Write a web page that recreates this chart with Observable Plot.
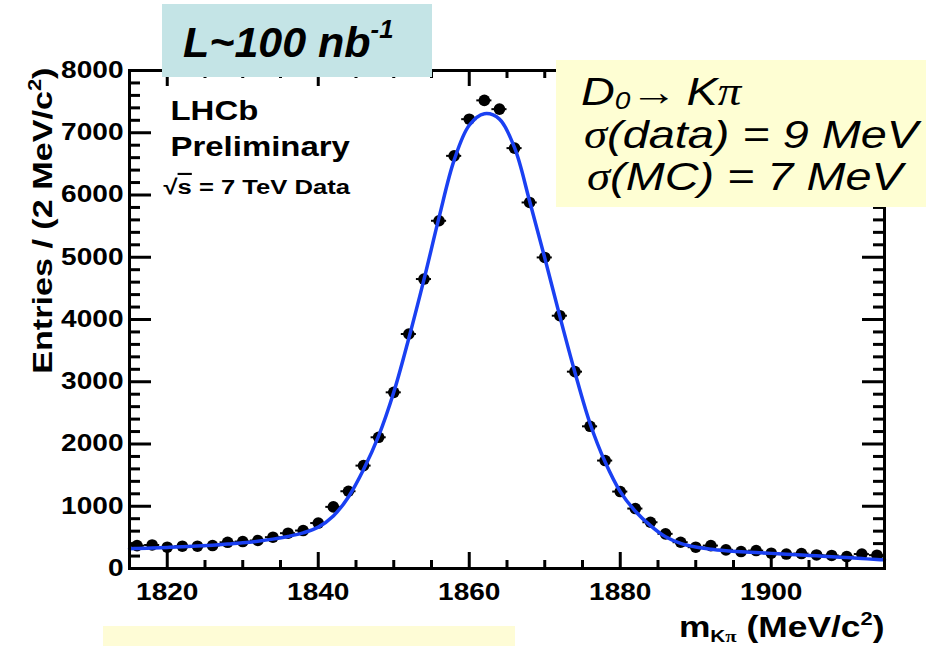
<!DOCTYPE html>
<html>
<head>
<meta charset="utf-8">
<script src="https://cdn.jsdelivr.net/npm/d3@7"></script>
<script src="https://cdn.jsdelivr.net/npm/@observablehq/plot@0.6"></script>
<style>
  body { margin: 0; background: #fff; }
  #wrap { position: relative; width: 939px; height: 646px; overflow: hidden; background: #fff; }
  #chart svg { display: block; }
  .note { position: absolute; font-family: "Liberation Sans", Arial, Helvetica, sans-serif; color: #000; }
  .note .line { position: absolute; white-space: nowrap; line-height: 1; }
  #lumi { left: 162px; top: 4px; width: 270px; height: 73px; background: #c4e4e6; }
  #lumi .line { left: 21px; top: 17px; font-size: 43px; font-weight: bold; font-style: italic; }
  #lumi sup { font-size: 0.6em; vertical-align: 0.75em; line-height: 0; }
  #decay { left: 556px; top: 60px; width: 370px; height: 147px; background: #fefed3; }
  #decay .line { font-size: 39px; font-style: italic; transform: scaleX(1.2); transform-origin: 0 0; }
  #decay .sym { font-family: "Liberation Serif", "Times New Roman", serif; font-style: italic; }
  #decay .arrow { font-family: "Liberation Serif", "Times New Roman", serif; font-style: normal; }
  #decay sub { font-size: 0.6em; vertical-align: -0.18em; line-height: 0; }
  #band { left: 103px; top: 626px; width: 412px; height: 20px; background: #fefcd6; }
</style>
</head>
<body>
<div id="wrap">
  <div id="chart"></div>
  <div class="note" id="lumi"><div class="line">L~100 nb<sup>-1</sup></div></div>
  <div class="note" id="decay">
    <div class="line" style="left:25px;top:12px">D<sub>0</sub><span class="arrow">→</span>&#8201;K<span class="sym">π</span></div>
    <div class="line" style="left:28px;top:55px"><span class="sym">σ</span>(data) = 9 MeV</div>
    <div class="line" style="left:31px;top:97px"><span class="sym">σ</span>(MC) = 7 MeV</div>
  </div>
  <div class="note" id="band"></div>
</div>
<script>
// D0 -> K pi candidates: bin centres (MeV/c^2) and entries per 2 MeV/c^2 bin
const massBins = [1816, 1818, 1820, 1822, 1824, 1826, 1828, 1830, 1832, 1834,
                  1836, 1838, 1840, 1842, 1844, 1846, 1848, 1850, 1852, 1854,
                  1856, 1858, 1860, 1862, 1864, 1866, 1868, 1870, 1872, 1874,
                  1876, 1878, 1880, 1882, 1884, 1886, 1888, 1890, 1892, 1894,
                  1896, 1898, 1900, 1902, 1904, 1906, 1908, 1910, 1912, 1914];
const entries = [367, 378, 342, 358, 358, 369, 421, 433, 450, 503,
                 567, 610, 730, 990, 1241, 1653, 2108, 2830, 3767, 4650,
                 5586, 6629, 7218, 7520, 7379, 6753, 5880, 4997, 4061, 3162,
                 2284, 1734, 1236, 963, 743, 557, 422, 342, 368, 300,
                 272, 288, 246, 232, 240, 218, 210, 192, 232, 214];

// fitted signal + background curve
const fitMass = [1815, 1816, 1818, 1820, 1822, 1824, 1826, 1828, 1830, 1832,
                 1834, 1836, 1838, 1840, 1842, 1844, 1846, 1848, 1850, 1852,
                 1854, 1856, 1858, 1860, 1862, 1864, 1866, 1868, 1870, 1872,
                 1874, 1876, 1878, 1880, 1882, 1884, 1886, 1888, 1890, 1892,
                 1894, 1896, 1898, 1900, 1902, 1904, 1906, 1908, 1910, 1912,
                 1914, 1915];
const fitEntries = [318, 322, 330, 338, 348, 360, 374, 392, 412, 438,
                    472, 515, 572, 665, 845, 1150, 1590, 2130, 2830, 3700,
                    4640, 5640, 6560, 7120, 7305, 7220, 6760, 5900, 4990, 4050,
                    3150, 2330, 1710, 1235, 920, 690, 510, 405, 345, 310,
                    287, 270, 256, 243, 230, 217, 203, 190, 175, 160,
                    145, 140];

const binWidth = 2;
const xDomain = [1815, 1915];
const yDomain = [0, 8000];
const xMajor = [1820, 1840, 1860, 1880, 1900];
const yMajor = [0, 1000, 2000, 3000, 4000, 5000, 6000, 7000, 8000];
const xMinor = d3.range(1820, 1915, 5).filter(v => !xMajor.includes(v));
const yMinor = d3.range(200, 8000, 200).filter(v => v % 1000 !== 0);

const yTitle = "Entries / (2 MeV/c²)";
const xTitle = "mKπ (MeV/c²)";
const panelLines = ["LHCb", "Preliminary", "√s = 7 TeV Data"];

const bins = massBins.map((m, i) => ({m, n: entries[i]}));
const fit = fitMass.map((m, i) => ({m, n: fitEntries[i]}));

const W = 939, H = 646;
const mL = 129, mR = 55, mT = 70, mB = 78;
const innerW = W - mL - mR, innerH = H - mT - mB;
const majY = 22, minY = 11, majX = 16, minX = 8;
const ink = "#000";

const chart = Plot.plot({
  width: W, height: H,
  marginLeft: mL, marginRight: mR, marginTop: mT, marginBottom: mB,
  x: {domain: xDomain},
  y: {domain: yDomain},
  style: {fontFamily: "'Liberation Sans', Arial, Helvetica, sans-serif", fontSize: "23px", fontWeight: "bold", color: ink, background: "#fff"},
  marks: [
    Plot.axisX({ticks: xMajor, tickSize: 0, tickPadding: 15, tickFormat: "d", label: null}),
    Plot.axisY({ticks: yMajor, tickSize: 0, tickPadding: 6, tickFormat: "d", label: null}),
    // inward ticks on all four sides
    Plot.tickY(yMajor, {y: d => d, insetRight: innerW - majY, stroke: ink, strokeWidth: 3}),
    Plot.tickY(yMinor, {y: d => d, insetRight: innerW - minY, stroke: ink, strokeWidth: 3}),
    Plot.tickY(yMajor, {y: d => d, insetLeft: innerW - majY, stroke: ink, strokeWidth: 3}),
    Plot.tickY(yMinor, {y: d => d, insetLeft: innerW - minY, stroke: ink, strokeWidth: 3}),
    Plot.tickX(xMajor, {x: d => d, insetTop: innerH - majX, stroke: ink, strokeWidth: 3}),
    Plot.tickX(xMinor, {x: d => d, insetTop: innerH - minX, stroke: ink, strokeWidth: 3}),
    Plot.tickX(xMajor, {x: d => d, insetBottom: innerH - majX, stroke: ink, strokeWidth: 3}),
    Plot.tickX(xMinor, {x: d => d, insetBottom: innerH - minX, stroke: ink, strokeWidth: 3}),
    // data with bin-width error bars
    Plot.ruleY(bins, {y: "n", x1: d => d.m - binWidth / 2, x2: d => d.m + binWidth / 2, stroke: ink, strokeWidth: 2}),
    Plot.dot(bins, {x: "m", y: "n", r: 5.8, fill: ink}),
    // fit
    Plot.line(fit, {x: "m", y: "n", curve: "catmull-rom", stroke: "#1a40f2", strokeWidth: 3.5}),
    Plot.frame({stroke: ink, strokeWidth: 3}),
    // panel text
    Plot.text([panelLines[0]], {text: d => d, frameAnchor: "top-left", textAnchor: "start", lineAnchor: "bottom", dx: 41, dy: 49, fontSize: 27}),
    Plot.text([panelLines[1]], {text: d => d, frameAnchor: "top-left", textAnchor: "start", lineAnchor: "bottom", dx: 41, dy: 85, fontSize: 27}),
    Plot.text([panelLines[2]], {text: d => d, frameAnchor: "top-left", textAnchor: "start", lineAnchor: "bottom", dx: 34, dy: 123, fontSize: 21}),
    // axis titles
    Plot.text([yTitle], {text: d => d, frameAnchor: "top-left", rotate: -90, textAnchor: "end", lineAnchor: "bottom", dx: -78, dy: -3, fontSize: 28}),
    Plot.text([xTitle], {text: d => d, frameAnchor: "bottom-right", textAnchor: "end", lineAnchor: "bottom", dx: 0, dy: 68, fontSize: 29})
  ]
});

document.getElementById("chart").appendChild(chart);

// ROOT's Helvetica runs wide: stretch each label along its own direction
const stretch = 1.22;
chart.querySelectorAll("text").forEach(t => {
  const tr = t.getAttribute("transform");
  if (tr) {
    t.setAttribute("transform", tr + ` scale(${stretch},1)`);
  } else {
    const x = +(t.getAttribute("x") || 0), y = +(t.getAttribute("y") || 0);
    t.removeAttribute("x"); t.removeAttribute("y");
    t.setAttribute("transform", `translate(${x},${y}) scale(${stretch},1)`);
  }
});

// rich text: overline, sub- and superscripts
const NS = "http://www.w3.org/2000/svg";
function rebuild(match, parts) {
  chart.querySelectorAll("text").forEach(t => {
    if (t.textContent !== match) return;
    t.textContent = "";
    for (const p of parts) {
      const s = document.createElementNS(NS, "tspan");
      s.textContent = p.t;
      if (p.dy) s.setAttribute("dy", p.dy);
      if (p.size) s.setAttribute("font-size", p.size);
      if (p.family) s.setAttribute("font-family", p.family);
      if (p.style) s.setAttribute("style", p.style);
      t.appendChild(s);
    }
  });
}
rebuild(panelLines[2], [
  {t: "√"},
  {t: "s", style: "text-decoration: overline"},
  {t: " = 7 TeV Data"}
]);
rebuild(xTitle, [
  {t: "m"},
  {t: "K", size: 17, dy: 5},
  {t: "π", size: 17, family: "'Liberation Serif', serif"},
  {t: " (MeV/c", dy: -5},
  {t: "2", size: 18, dy: -12},
  {t: ")", dy: 12}
]);
rebuild(yTitle, [
  {t: "Entries / (2 MeV/c"},
  {t: "2", size: 18, dy: -11},
  {t: ")", dy: 11}
]);
</script>
</body>
</html>
